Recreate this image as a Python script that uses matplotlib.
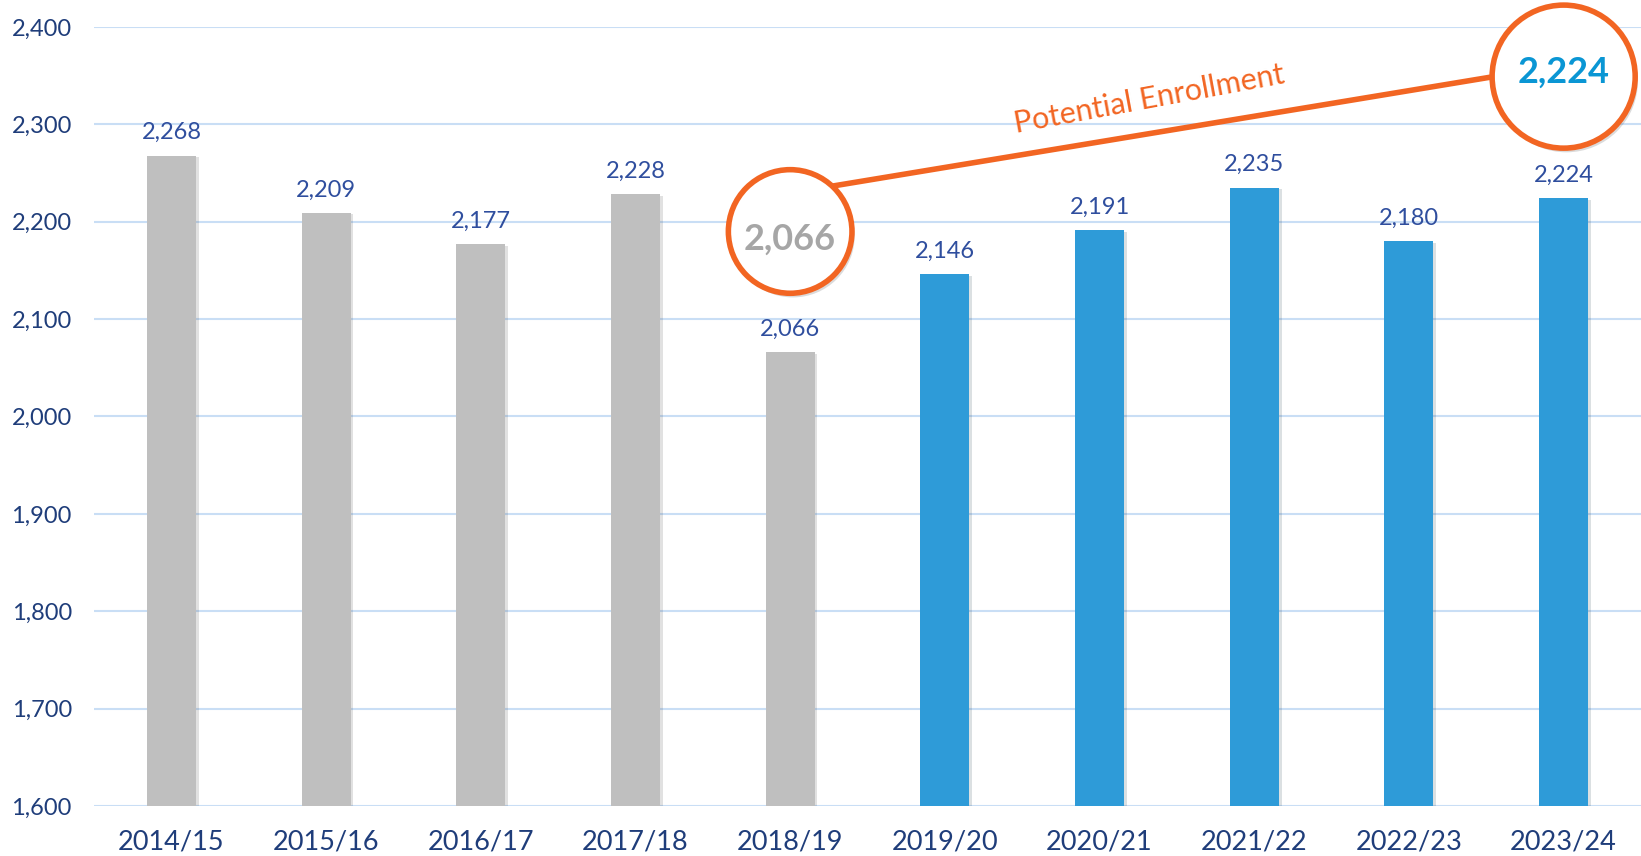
"""Enrollment bar chart with potential enrollment callout"""

import matplotlib
matplotlib.use("Agg")
import matplotlib.pyplot as plt
import matplotlib.patheffects as pe
from matplotlib.ticker import FuncFormatter

# data
years = ["2014/15", "2015/16", "2016/17", "2017/18", "2018/19",
         "2019/20", "2020/21", "2021/22", "2022/23", "2023/24"]
enrollment = [2268, 2209, 2177, 2228, 2066, 2146, 2191, 2235, 2180, 2224]
actual_count = 5  # first five years are grey, the rest blue
y_ticks = [1600, 1700, 1800, 1900, 2000, 2100, 2200, 2300, 2400]

# callout placement (data coords)
low_idx, low_y = 4, 2190
high_idx, high_y = 9, 2349
link_x = [4.25, 8.7]
link_y = [2236, 2353]
label_pos = (6.32, 2326)

GREY = "#bfbfbf"
BLUE = "#2e9bd8"
ORANGE = "#f26522"
GRID = "#c9def5"
TICK_COLOR = "#1f3d7a"
VALUE_COLOR = "#2f4e9e"

plt.rcParams["font.family"] = ["Lato", "DejaVu Sans"]

fig = plt.figure(figsize=(16.41, 8.56), dpi=100)
ax = fig.add_axes([0.0573, 0.0584, 0.9427, 0.9101])

colors = [GREY if i < actual_count else BLUE for i in range(len(years))]
bars = ax.bar(range(len(years)), [v - 1600 for v in enrollment], bottom=1600,
              width=0.317, color=colors, zorder=3)
for b in bars:
    b.set_path_effects([pe.SimplePatchShadow(offset=(2, -1), alpha=0.15), pe.Normal()])

for i, v in enumerate(enrollment):
    ax.annotate(f"{v:,}", (i, v), xytext=(0, 9), textcoords="offset points",
                ha="center", va="bottom", fontsize=17, color=VALUE_COLOR, zorder=4)

ax.set_ylim(1600, 2400)
ax.set_xlim(-0.5, len(years) - 0.5)
ax.set_yticks(y_ticks)
ax.yaxis.set_major_formatter(FuncFormatter(lambda v, _: f"{int(v):,}"))
ax.set_xticks(range(len(years)))
ax.set_xticklabels(years)
ax.tick_params(axis="y", length=0, pad=16, labelsize=17, labelcolor=TICK_COLOR)
ax.tick_params(axis="x", length=0, pad=17, labelsize=19.5, labelcolor=TICK_COLOR)
ax.grid(axis="y", color=GRID, linewidth=1.5, zorder=0)
ax.set_axisbelow(True)
for s in ax.spines.values():
    s.set_visible(False)

# connector line and callout circles
ax.plot(link_x, link_y, color=ORANGE, linewidth=4, zorder=5, solid_capstyle="butt")
shadow = [pe.SimplePatchShadow(offset=(2, -3), alpha=0.2), pe.Normal()]
ax.plot([low_idx], [low_y], marker="o", markersize=89, markerfacecolor="white",
        markeredgecolor=ORANGE, markeredgewidth=4, zorder=6, clip_on=False,
        path_effects=shadow)
ax.plot([high_idx], [high_y], marker="o", markersize=103, markerfacecolor="white",
        markeredgecolor=ORANGE, markeredgewidth=4, zorder=6, clip_on=False,
        path_effects=shadow)
ax.text(low_idx, low_y - 8, f"{enrollment[low_idx]:,}", ha="center", va="center",
        fontsize=26, fontweight="bold", color="#a6a6a6", zorder=7)
ax.text(high_idx, high_y + 4, f"{enrollment[-1]:,}", ha="center", va="center",
        fontsize=26, fontweight="bold", color="#0a96d4", zorder=7, clip_on=False)
ax.text(*label_pos, "Potential Enrollment", ha="center", va="center",
        rotation=10.5, rotation_mode="anchor", fontsize=22, color=ORANGE, zorder=5)

fig.savefig("out.png", dpi=100)
